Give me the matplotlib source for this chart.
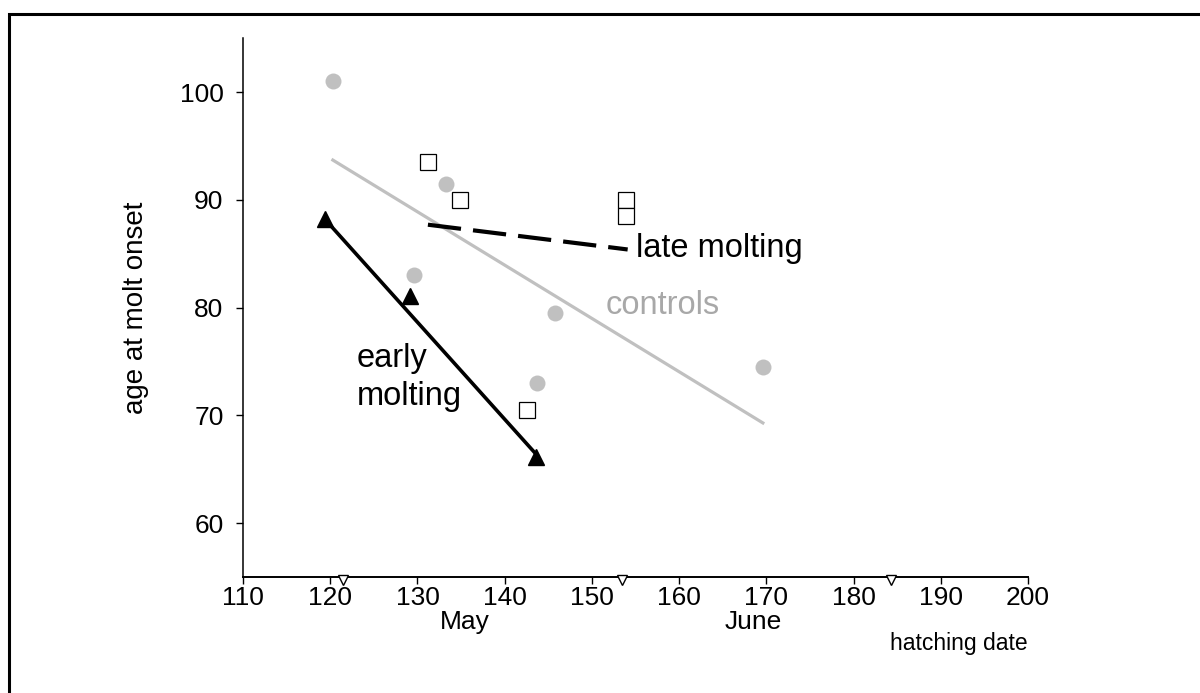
import matplotlib
matplotlib.use("Agg")
import matplotlib.pyplot as plt
from matplotlib.patches import Rectangle

plt.rcParams['font.family'] = ['Liberation Sans', 'DejaVu Sans']

# controls (grey circles)
controls_x = [120.3, 133.3, 129.6, 145.8, 143.7, 169.6]
controls_y = [101.0, 91.5, 83.0, 79.5, 73.0, 74.5]
# early molting (black triangles)
early_x = [119.4, 129.2, 143.6]
early_y = [88.2, 81.1, 66.1]
# late molting (open squares)
late_x = [131.2, 134.9, 153.9, 153.9, 142.6]
late_y = [93.5, 90.0, 90.0, 88.5, 70.5]

# trend lines, end points
controls_fit_x = [120.3, 169.6]
controls_fit_y = [93.7, 69.3]
early_fit_x = [119.4, 143.6]
early_fit_y = [88.2, 66.4]
late_fit_x = [131.2, 154.1]
late_fit_y = [87.7, 85.4]

# first day of May, June, July
month_start = [121.5, 153.5, 184.3]
month_names = ["May", "June"]
month_name_x = [135.4, 168.5]

x_ticks = [110, 120, 130, 140, 150, 160, 170, 180, 190, 200]
y_ticks = [60, 70, 80, 90, 100]

grey = "#c0c0c0"

fig = plt.figure(figsize=(12, 6.93), dpi=100)
ax = fig.add_axes([0.2025, 0.1674, 0.6542, 0.7773])

ax.plot(controls_fit_x, controls_fit_y, color=grey, lw=2.3, zorder=2)
ax.plot(controls_x, controls_y, "o", color=grey, ms=11.5, mec="none", zorder=3)

ax.plot(early_fit_x, early_fit_y, color="black", lw=2.6, zorder=4)
ax.plot(early_x, early_y, "^", color="black", ms=12, zorder=5)

ax.plot(late_fit_x, late_fit_y, color="black", lw=3, dashes=(8, 2.9), zorder=4)
ax.plot(late_x, late_y, "s", mfc="white", mec="black", ms=11, mew=0.9, zorder=6)

# month markers on the time axis
ax.plot(month_start, [54.75] * len(month_start), "v", mfc="white", mec="black",
        ms=7, mew=1, clip_on=False, zorder=7)

ax.text(155.1, 85.5, "late molting", fontsize=23.5, ha="left", va="center")
ax.text(151.6, 80.2, "controls", fontsize=23.5, color="#a8a8a8", ha="left", va="center")
ax.text(123.0, 73.5, "early\nmolting", fontsize=23.5, ha="left", va="center",
        linespacing=1.3)

for name, xpos in zip(month_names, month_name_x):
    ax.text(xpos, 50.85, name, fontsize=19, ha="center", va="center", clip_on=False)
ax.text(192.1, 48.85, "hatching date", fontsize=16.5, ha="center", va="center", clip_on=False)

ax.set_xlim(110, 200)
ax.set_ylim(55, 105)
ax.set_xticks(x_ticks)
ax.set_yticks(y_ticks)
ax.tick_params(axis="both", labelsize=19, direction="out", length=5, width=1)
ax.tick_params(axis="y", pad=9)
ax.tick_params(axis="x", pad=1.5)
ax.set_ylabel("age at molt onset", fontsize=20, labelpad=22)

for side in ["top", "right"]:
    ax.spines[side].set_visible(False)
ax.spines["left"].set_linewidth(1.1)
ax.spines["bottom"].set_linewidth(1.4)

# frame around the figure (right and bottom edges fall outside the image)
fig.patches.append(Rectangle((0.0075, -0.05), 1.2, 0.03 + 1.0, transform=fig.transFigure,
                             fill=False, edgecolor="black", lw=2.2))

fig.savefig("out.png", dpi=100)
